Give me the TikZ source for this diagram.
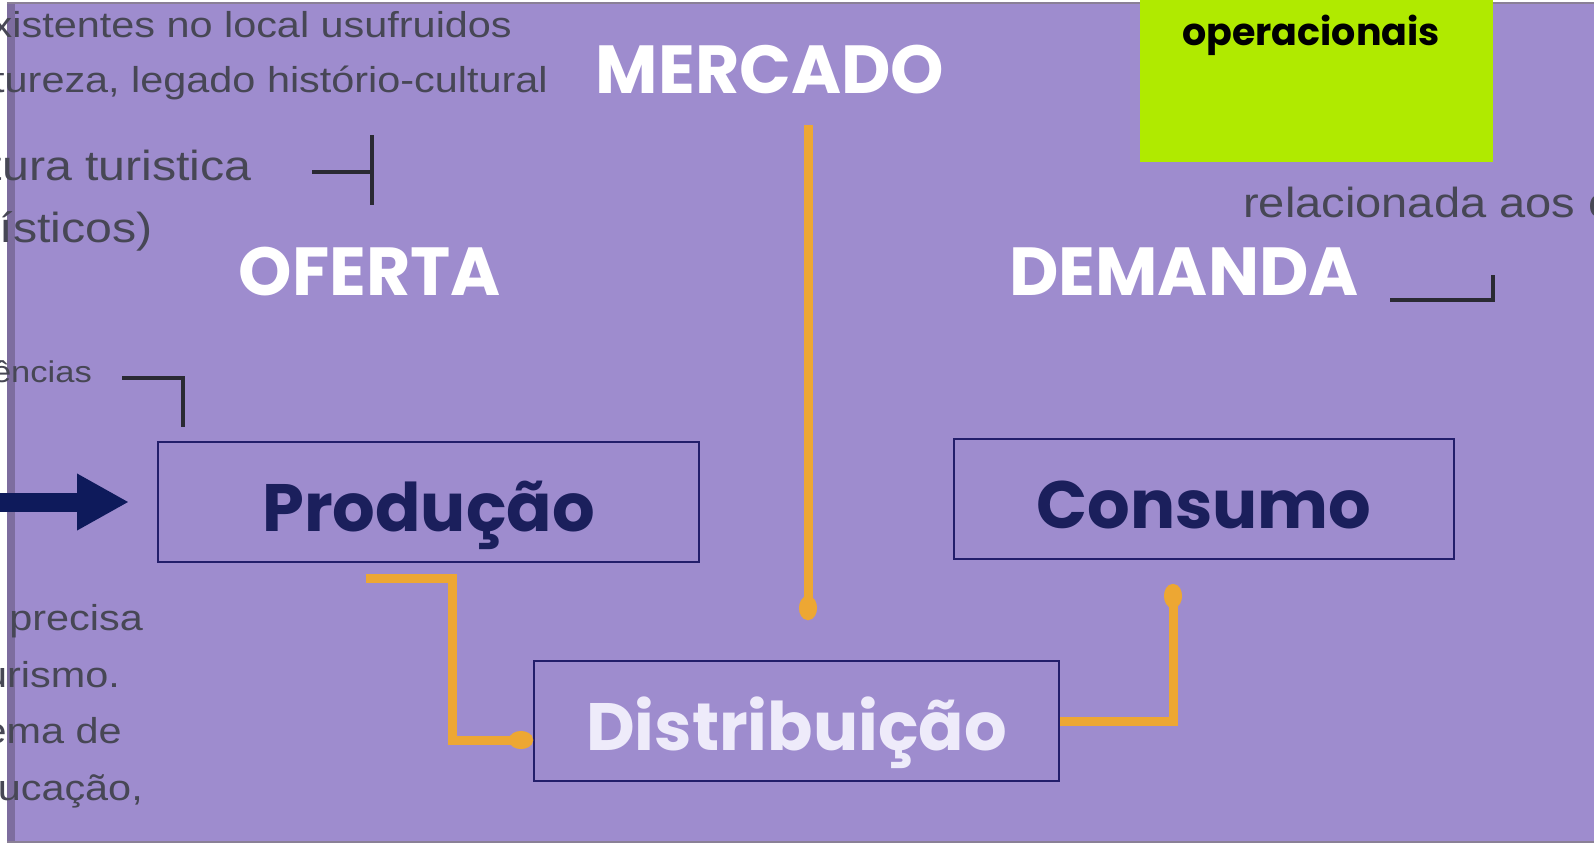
\documentclass[tikz,border=0pt]{standalone}
\usepackage{fontspec}
\usetikzlibrary{arrows.meta}
\newfontfamily\grayfont[FakeStretch=1.15]{Liberation Sans}
\newfontfamily\gothic{Poppins}
\definecolor{panel}{HTML}{9E8CCE}
\definecolor{strip}{HTML}{7D6D9F}
\definecolor{edgec}{HTML}{8A8096}
\definecolor{graytxt}{HTML}{474755}
\definecolor{boxline}{HTML}{231E6B}
\definecolor{prodc}{HTML}{1B1F5C}
\definecolor{distc}{HTML}{EEEBFA}
\definecolor{orng}{HTML}{EDA733}
\definecolor{navyarr}{HTML}{0E1A5B}
\definecolor{brk}{HTML}{2A2A33}
\definecolor{limec}{HTML}{B0EA00}
\begin{document}
\begin{tikzpicture}[x=1pt,y=-1pt,
  gtext/.style={font=\grayfont\fontsize{36}{40}\selectfont, text=graytxt, inner sep=0pt},
  gbig/.style={font=\grayfont\fontsize{42}{46}\selectfont, text=graytxt, inner sep=0pt},
  gsmall/.style={font=\grayfont\fontsize{30}{34}\selectfont, text=graytxt, inner sep=0pt},
  title/.style={font=\gothic\bfseries\fontsize{68}{78}\selectfont, text=white, inner sep=0pt, anchor=base},
  box/.style={draw=boxline, line width=2pt, inner sep=0pt, text height=59pt, text depth=0pt,
    minimum height=120pt, font=\gothic\bfseries\fontsize{67}{76}\selectfont},
  conn/.style={draw=orng, line width=9pt, -{Ellipse[length=24pt,width=18pt]}},
  bracket/.style={draw=brk, line width=4pt},
  bigarrow/.style={draw=navyarr, line width=19pt, -{Triangle[length=52pt,width=53pt]}},
]
\useasboundingbox (0,0) rectangle (1594,844);
\clip (0,0) rectangle (1594,844);
\fill[white] (0,0) rectangle (1594,844);
\fill[panel] (8,3) rectangle (1600,842);
\fill[strip] (7,3) rectangle (15,842);
\draw[edgec, line width=2pt] (7,3) -- (1600,3);
\draw[edgec, line width=2pt] (7,842) -- (1600,842);
\fill[limec] (1140,-5) rectangle (1493,162);

% gray texts
\node[gtext, anchor=base east] (t1) at (512,37) {existentes no local usufruidos};
\node[gtext, anchor=base east] (t2) at (548,92) {natureza, legado histório-cultural};
\node[gbig, anchor=base east] (t3) at (252,180) {estrutura turistica};
\node[gbig, anchor=base east] (t4) at (153,242) {característicos)};
\node[gsmall, anchor=base east] (t5) at (92,382) {competências};
\node[gbig, anchor=base west, font=\grayfont\fontsize{42}{46}\selectfont] (t6) at (1243,217) {\addfontfeature{FakeStretch=1.12}relacionada aos c};
\node[gtext, anchor=base east] (t7) at (143,630) {precisa};
\node[gtext, anchor=base east] (t8) at (120,687) {turismo.};
\node[gtext, anchor=base east] (t9) at (122,743) {sistema de};
\node[gtext, anchor=base east] (t10) at (143,800) {educação,};

% green note
\node[font=\gothic\bfseries\fontsize{38}{42}\selectfont, anchor=base, inner sep=0pt] (op) at (1311,45) {operacionais};

% titles
\node[title] (mercado) at (770,93) {MERCADO};
\node[title] (oferta) at (370,295) {OFERTA};
\node[title] (demanda) at (1184,295) {DEMANDA};

% boxes
\node[box, minimum width=541pt, text=prodc] (prod) at (428.5,502) {Produção};
\node[box, minimum width=500pt, text=prodc] (cons) at (1204,499) {Consumo};
\node[box, minimum width=525pt, text=distc] (dist) at (796.5,721) {Distribuição};

% brackets
\draw[bracket] (312,172) -- (372,172) (372,135) -- (372,205);
\draw[bracket] (122,378) -| (183,427);
\draw[bracket] (1390,300) -| (1493,275);

% navy arrow
\coordinate (a0) at (-10,502);
\draw[bigarrow, shorten >=28pt] (a0) -- (prod.west);

% orange connectors
\coordinate (m1) at (808,125);
\coordinate (m2) at (808,620);
\draw[conn] (m1) -- (m2);
\coordinate (p1) at (366,578);
\draw[conn] (p1) -- (452,578) |- ([yshift=-19pt]dist.west);
\coordinate (c1) at (1173,584);
\draw[conn] (dist.east) -| (c1);
\end{tikzpicture}
\end{document}
